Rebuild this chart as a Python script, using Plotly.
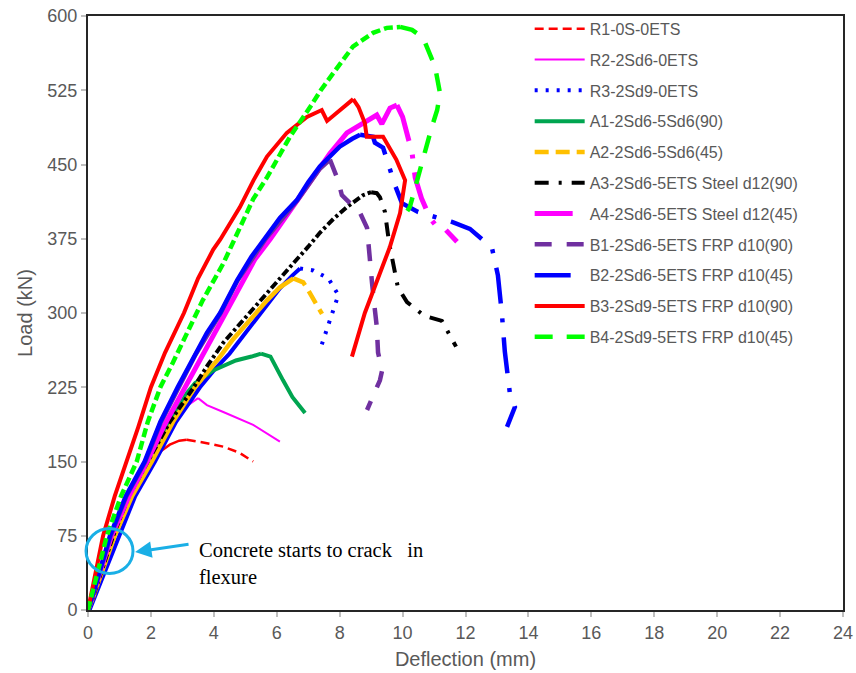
import numpy as np
import plotly.graph_objects as go

# ---------------- data (deflection mm, load kN) ----------------
names = ["R1-0S-0ETS", "R2-2Sd6-0ETS", "R3-2Sd9-0ETS", "A1-2Sd6-5Sd6(90)", "A2-2Sd6-5Sd6(45)",
         "A3-2Sd6-5ETS Steel d12(90)", "A4-2Sd6-5ETS Steel d12(45)", "B1-2Sd6-5ETS FRP d10(90)",
         "B2-2Sd6-5ETS FRP d10(45)", "B3-2Sd9-5ETS FRP d10(90)", "B4-2Sd9-5ETS FRP d10(45)"]

R1_x = [0, 0.15, 0.82, 1.35, 2.0, 2.3, 2.6, 2.9, 3.14, 3.7, 4.3, 4.8, 5.25]
R1_y = [0, 12, 75, 115, 150, 160, 167, 171, 172, 169, 165, 159, 150]

R2_x = [0, 0.15, 0.78, 1.3, 1.95, 2.6, 3.1, 3.5, 3.78, 4.3, 5.25, 6.1]
R2_y = [0, 12, 75, 115, 150, 185, 205, 214, 207, 200, 187, 170]

R3_x = [0.05, 0.2, 0.54, 0.8, 0.97, 1.5, 2.13, 2.8, 3.56, 4.0, 4.5, 5.0, 5.57, 6.1, 6.5, 6.74,
        7.16, 7.64, 7.96, 7.85, 7.64, 7.53, 7.43]
R3_y = [0, 12, 38, 60, 75, 115, 150, 190, 225, 242, 259, 280, 303, 325, 338, 345,
        343, 335, 318, 308, 288, 278, 268]

A1_x = [0, 0.15, 0.78, 1.3, 1.95, 2.5, 3.14, 3.4, 3.98, 4.7, 5.2, 5.5, 5.8, 6.2, 6.5, 6.9]
A1_y = [0, 12, 75, 115, 150, 185, 219, 229, 242, 252, 256, 259, 256, 232, 215, 199]

A2_x = [0, 0.15, 0.85, 1.4, 2.03, 2.7, 3.4, 3.8, 4.2, 4.6, 5.05, 5.4, 5.7, 6.1, 6.53,
        6.84, 7.0, 7.17, 7.37, 7.44]
A2_y = [0, 12, 75, 115, 150, 190, 225, 240, 256, 273, 290, 302, 313, 326, 335,
        331, 323, 313, 301, 299]

A3_x = [0, 0.15, 0.8, 1.3, 1.9, 2.6, 3.3, 3.8, 4.3, 4.9, 5.47, 6.0, 6.52, 7.0, 7.37, 7.8,
        8.23, 8.74, 9.0, 9.18, 9.28, 9.44, 9.57, 9.66, 9.85, 10.14, 10.7, 11.25, 11.7]
A3_y = [0, 12, 75, 115, 150, 190, 222, 247, 270, 292, 313, 332, 350, 367, 381, 395,
        407, 419, 422, 421, 417, 402, 371, 356, 326, 311, 297, 292, 266]

A4_x = [0, 0.15, 0.75, 1.3, 1.88, 2.4, 3.0, 3.5, 4.0, 4.35, 4.9, 5.3, 5.8, 6.3, 6.8, 7.2,
        7.69, 8.23, 8.74, 9.18, 9.34, 9.6, 9.82, 10.0, 10.3, 10.4, 10.6, 10.87, 11.09,
        11.28, 11.73]
A4_y = [0, 15, 75, 115, 150, 185, 220, 250, 280, 300, 332, 354, 375, 398, 420, 440,
        461, 482, 492, 500, 491, 507, 510, 498, 462, 437, 416, 396, 387,
        387, 372]

B1_x = [0, 0.15, 0.72, 1.22, 1.82, 2.32, 2.88, 3.42, 4.22, 4.76, 5.65, 6.66, 7.35, 7.69,
        7.8, 7.95, 8.07, 8.33, 8.65, 8.87, 8.96, 9.03, 9.12, 9.18, 9.22, 9.35, 9.28,
        9.06, 8.87]
B1_y = [0, 15, 75, 115, 150, 190, 225, 258, 300, 333, 375, 414, 445, 455,
        447, 434, 419, 411, 401, 386, 360, 330, 303, 286, 260, 242, 232,
        215, 202]

B2_x = [0, 0.15, 0.7, 1.2, 1.8, 2.3, 2.85, 3.4, 3.78, 4.2, 4.74, 5.2, 5.63, 6.1, 6.64,
        7.0, 7.37, 8.0, 8.4, 8.65, 9.06, 9.12, 9.38, 9.76, 9.98, 10.49, 11.57, 12.14,
        12.62, 12.84, 13.03, 13.1, 13.16, 13.25, 13.32, 13.41, 13.57, 13.32]
B2_y = [0, 15, 75, 115, 150, 190, 225, 258, 280, 300, 333, 357, 375, 396, 414,
        432, 448, 468, 476, 480, 478, 472, 467, 429, 411, 402, 392, 385,
        372, 366, 338, 318, 298, 261, 239, 219, 205, 185]

B3_x = [0, 0.12, 0.48, 0.85, 1.23, 1.6, 2.0, 2.45, 3.05, 3.5, 3.98, 4.2, 4.83, 5.26, 5.69,
        6.32, 6.96, 7.43, 7.6, 8.0, 8.43, 8.6, 8.8, 8.86, 9.38, 9.8, 10.08, 9.92, 9.6,
        9.19, 8.8, 8.39]
B3_y = [0, 20, 75, 115, 150, 185, 225, 260, 300, 335, 364, 374, 407, 434, 458,
        482, 498, 505, 494, 505, 516, 508, 492, 478, 478, 455, 434, 401, 367,
        333, 300, 256]

B4_x = [0, 0.15, 0.6, 1.05, 1.55, 1.9, 2.3, 2.7, 3.1, 3.48, 3.65, 4.3, 4.83, 5.25, 5.69,
        6.05, 6.42, 7.06, 7.4, 7.79, 8.1, 8.42, 9.06, 9.5, 9.92, 10.3, 10.65, 11.03,
        11.19, 11.1, 10.93, 10.55, 10.23, 10.15]
B4_y = [0, 18, 75, 115, 150, 190, 225, 250, 276, 300, 313, 350, 387, 415, 437,
        458, 478, 508, 525, 542, 556, 569, 583, 588, 589, 586, 578, 549,
        522, 505, 488, 444, 407, 403]

x_ticks = [0, 2, 4, 6, 8, 10, 12, 14, 16, 18, 20, 22, 24]
y_ticks = [0, 75, 150, 225, 300, 375, 450, 525, 600]

series_x = [R1_x, R2_x, R3_x, A1_x, A2_x, A3_x, A4_x, B1_x, B2_x, B3_x, B4_x]
series_y = [R1_y, R2_y, R3_y, A1_y, A2_y, A3_y, A4_y, B1_y, B2_y, B3_y, B4_y]

# ---------------- styles ----------------
styles = [
    dict(color="#FF0000", width=2.5, rise="solid", fall="9px,5px"),
    dict(color="#FF00FF", width=2, rise="solid", fall="solid"),
    dict(color="#0000FF", width=4, rise="solid", fall="3px,8px"),
    dict(color="#00A550", width=4, rise="solid", fall="solid"),
    dict(color="#FFC000", width=4.5, rise="solid", fall="14px,7px"),
    dict(color="#000000", width=4, rise="8px,3px,3px,3px", fall="14px,10px,3px,10px"),
    dict(color="#FF00FF", width=5, rise="solid", fall="38px,14px,4px,14px"),
    dict(color="#7030A0", width=4.5, rise="solid", fall="17px,15px"),
    dict(color="#0000FF", width=4.5, rise="solid", fall="36px,15px,4px,15px"),
    dict(color="#FF0000", width=4, rise="solid", fall="solid"),
    dict(color="#00FF00", width=4.5, rise="9px,4px", fall="18px,14px"),
]

fig = go.Figure()
for i, (nm, xs, ys, st) in enumerate(zip(names, series_x, series_y, styles)):
    k = int(np.argmax(ys))
    fig.add_trace(go.Scatter(x=xs[:k + 1], y=ys[:k + 1], mode="lines", name=nm,
                             legendgroup=nm, showlegend=False, hoverinfo="skip",
                             line=dict(color=st["color"], width=st["width"], dash=st["rise"])))
    fig.add_trace(go.Scatter(x=xs[k:], y=ys[k:], mode="lines", name=nm,
                             legendgroup=nm, showlegend=True,
                             line=dict(color=st["color"], width=st["width"], dash=st["fall"])))

axis_common = dict(showgrid=False, zeroline=False, showline=True, linecolor="#262626",
                   linewidth=2, mirror=True, ticks="outside", ticklen=5, tickcolor="#BFBFBF",
                   tickwidth=1.5, automargin=False,
                   tickfont=dict(family="Liberation Sans, Arial", size=18, color="#595959"))

fig.update_layout(
    width=856, height=673,
    margin=dict(l=88, r=13, t=16, b=63),
    paper_bgcolor="white", plot_bgcolor="white",
    font=dict(family="Liberation Sans, Arial", color="#595959"),
    xaxis=dict(range=[0, 24], tickvals=x_ticks, ticktext=[str(v) for v in x_ticks],
               title=dict(text="Deflection (mm)", font=dict(size=20, color="#595959"), standoff=10),
               **axis_common),
    yaxis=dict(range=[0, 600], tickvals=y_ticks, ticktext=[str(v) for v in y_ticks],
               title=dict(text="Load (kN)", font=dict(size=20, color="#595959"), standoff=9),
               **axis_common),
    legend=dict(x=0.585, y=1.007, xanchor="left", yanchor="top", bgcolor="rgba(0,0,0,0)",
                font=dict(family="Liberation Sans, Arial", size=16, color="#595959"),
                tracegroupgap=7, itemwidth=50, traceorder="grouped", maxheight=600),
    showlegend=True,
)

# annotation: circle + arrow + text
fig.add_shape(type="circle", xref="paper", yref="paper",
              x0=-0.0026, x1=0.0596, y0=0.0614, y1=0.1372,
              line=dict(color="#1AAFE6", width=3))
fig.add_annotation(xref="paper", yref="paper", x=0.0623, y=0.0976,
                   ax=55, ay=-8, axref="pixel", ayref="pixel",
                   showarrow=True, arrowhead=2, arrowsize=1.1, arrowwidth=3,
                   arrowcolor="#1AAFE6", text="")
fig.add_annotation(xref="paper", yref="paper", x=0.145, y=0.0783,
                   xanchor="left", yanchor="middle", align="left", showarrow=False,
                   text="Concrete starts to crack\u00a0\u00a0\u00a0in<br>flexure",
                   font=dict(family="Liberation Serif, Times New Roman", size=20.5, color="#000000"))

fig.write_html("out.html", config={"displayModeBar": False},
               post_script="document.body.style.margin='0px';")
